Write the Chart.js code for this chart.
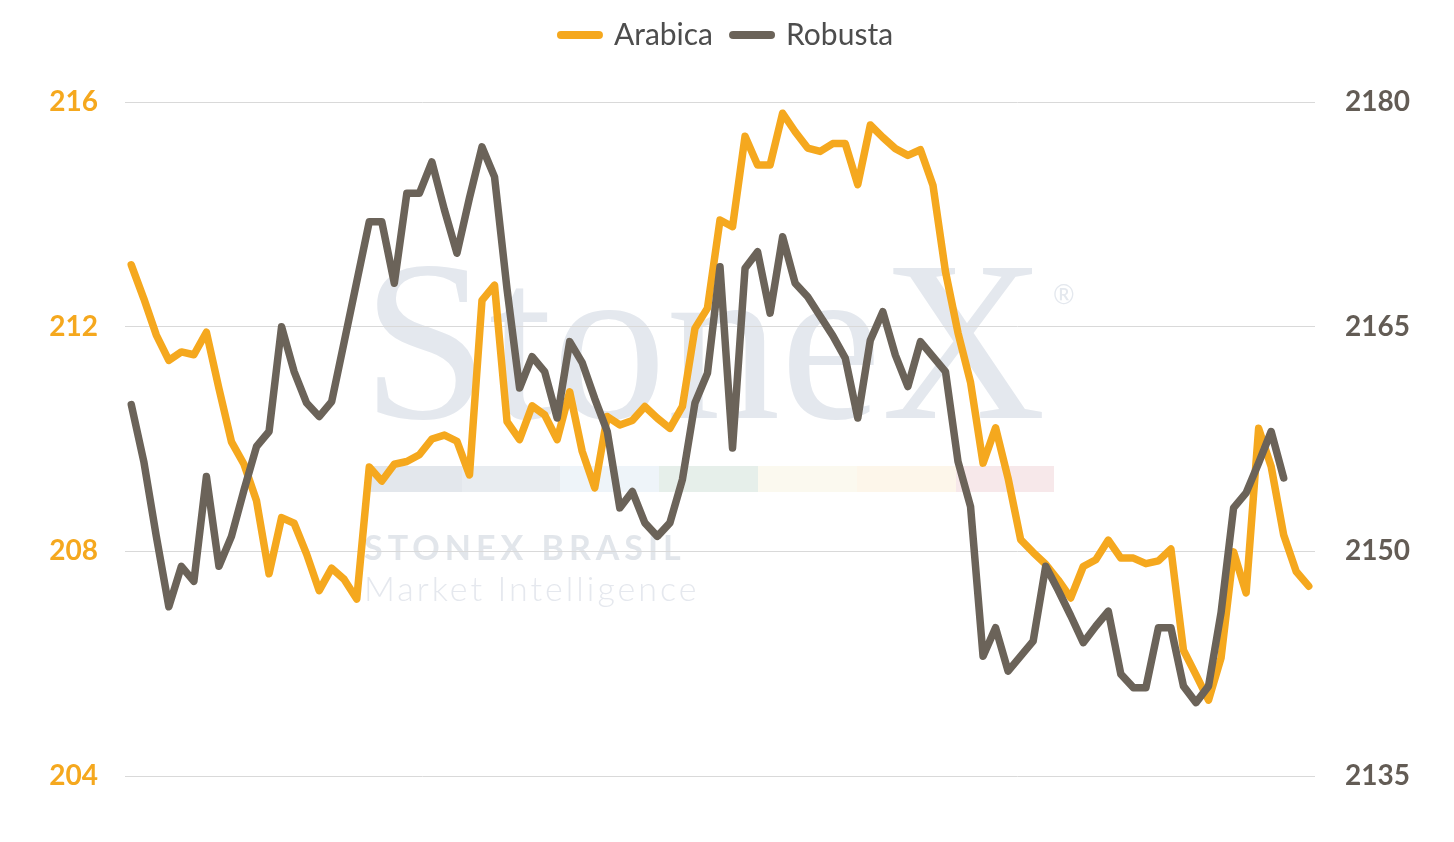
<!DOCTYPE html>
<html>
<head>
<meta charset="utf-8">
<script src="https://cdn.jsdelivr.net/npm/chart.js@4"></script>
<style>
  html, body { margin: 0; padding: 0; background: #ffffff; }
  #wrap { width: 1454px; height: 842px; }
</style>
</head>
<body>
<div id="wrap"><canvas id="c" width="1454" height="842"></canvas></div>
<script>
const categories = ["1","2","3","4","5","6","7","8","9","10","11","12","13","14","15","16","17","18","19","20",
  "21","22","23","24","25","26","27","28","29","30","31","32","33","34","35","36","37","38","39","40",
  "41","42","43","44","45","46","47","48","49","50","51","52","53","54","55","56","57","58","59","60",
  "61","62","63","64","65","66","67","68","69","70","71","72","73","74","75","76","77","78","79","80",
  "81","82","83","84","85","86","87","88","89","90","91","92","93","94","95"];

const arabica = [213.10, 212.50, 211.85, 211.40, 211.55, 211.50, 211.90, 210.90, 209.95, 209.55,
  208.90, 207.60, 208.60, 208.50, 207.95, 207.30, 207.70, 207.50, 207.15, 209.50,
  209.25, 209.55, 209.60, 209.72, 210.00, 210.07, 209.96, 209.36, 212.47, 212.74,
  210.31, 209.99, 210.59, 210.43, 209.99, 210.84, 209.78, 209.13, 210.40, 210.25,
  210.33, 210.58, 210.37, 210.19, 210.58, 211.97, 212.33, 213.90, 213.78, 215.39,
  214.88, 214.88, 215.80, 215.47, 215.18, 215.12, 215.26, 215.26, 214.53, 215.59,
  215.37, 215.17, 215.05, 215.15, 214.52, 212.98, 211.89, 211.01, 209.57, 210.20,
  209.30, 208.21, 207.98, 207.77, 207.49, 207.17, 207.73, 207.85, 208.20, 207.88,
  207.88, 207.78, 207.83, 208.04, 206.24, 205.80, 205.35, 206.10, 207.99, 207.26,
  210.19, 209.51, 208.29, 207.64, 207.38];

const robusta = [2159.8, 2156.0, 2151.0, 2146.3, 2149.0, 2148.0, 2155.0, 2149.0, 2151.0, 2154.1,
  2157.0, 2158.0, 2165.0, 2162.0, 2159.9, 2159.0, 2160.0, 2164.0, 2168.0, 2172.0,
  2172.0, 2167.9, 2173.9, 2173.9, 2176.0, 2172.8, 2169.9, 2173.6, 2177.0, 2175.0,
  2167.5, 2160.9, 2163.0, 2162.0, 2158.9, 2164.0, 2162.6, 2160.2, 2158.0, 2152.9,
  2154.0, 2151.9, 2151.0, 2151.9, 2154.8, 2159.9, 2161.9, 2169.0, 2156.9, 2168.9,
  2170.0, 2165.9, 2171.0, 2167.9, 2167.0, 2165.7, 2164.4, 2162.9, 2158.9, 2164.1,
  2166.0, 2163.1, 2161.0, 2164.0, 2163.0, 2162.0, 2156.0, 2153.0, 2143.0, 2144.9,
  2142.0, 2143.0, 2144.0, 2149.0, 2147.4, 2145.7, 2143.9, 2145.0, 2146.0, 2141.8,
  2140.9, 2140.9, 2144.9, 2144.9, 2141.0, 2139.9, 2141.0, 2145.9, 2152.9, 2153.9,
  2155.9, 2158.0, 2154.9];

const leftTicks = { min: 204, max: 216, step: 4 };
const rightTicks = { min: 2135, max: 2180, step: 15 };

const ORANGE = '#F5A81E';
const GREY = '#6B6359';

const watermark = {
  id: 'watermark',
  afterInit(chart) {
    const lg = chart.legend;
    if (lg) {
      const f = lg.fit;
      lg.fit = function () { f.call(this); this.height = 102; };
    }
  },
  beforeDraw(chart) {
    const ctx = chart.ctx;
    ctx.save();
    const starts = [368, 462, 560, 659, 758, 857, 956];
    const ends = [462, 560, 659, 758, 857, 956, 1054];
    const cols = ['#e3e7ec', '#e8ecf0', '#eef4f9', '#e6efea', '#fbf9ef', '#fdf6ea', '#f7e8ea'];
    starts.forEach((s, i) => {
      ctx.fillStyle = cols[i];
      ctx.fillRect(s, 466, ends[i] - s, 26);
    });
    ctx.fillStyle = '#e4e8ee';
    ctx.textBaseline = 'alphabetic';
    ctx.textAlign = 'left';
    ctx.font = '228px "Liberation Serif", "DejaVu Serif", serif';
    ctx.fillText('StoneX', 362, 418);
    ctx.font = '26px "Lato", sans-serif';
    ctx.fillText('®', 1053, 304);
    ctx.fillStyle = '#e2e6eb';
    ctx.font = 'bold 34px "Lato", sans-serif';
    ctx.letterSpacing = '5px';
    ctx.fillText('STONEX BRASIL', 364, 560);
    ctx.fillStyle = '#e5e8ee';
    ctx.font = '300 34px "Lato", sans-serif';
    ctx.letterSpacing = '3px';
    ctx.fillText('Market Intelligence', 364, 601);
    ctx.restore();
  }
};

new Chart(document.getElementById('c'), {
  type: 'line',
  data: {
    labels: categories,
    datasets: [
      {
        label: 'Arabica',
        data: arabica,
        yAxisID: 'y',
        borderColor: ORANGE,
        backgroundColor: ORANGE,
        borderWidth: 7.5,
        pointRadius: 0,
        pointHoverRadius: 0,
        tension: 0,
        borderCapStyle: 'round',
        borderJoinStyle: 'round',
        fill: false,
        order: 1
      },
      {
        label: 'Robusta',
        data: robusta,
        yAxisID: 'y1',
        borderColor: GREY,
        backgroundColor: GREY,
        borderWidth: 7.5,
        pointRadius: 0,
        pointHoverRadius: 0,
        tension: 0,
        borderCapStyle: 'round',
        borderJoinStyle: 'round',
        fill: false,
        order: 0
      }
    ]
  },
  options: {
    responsive: false,
    animation: false,
    devicePixelRatio: 1,
    layout: { padding: { top: 0, bottom: 66, left: 0, right: 0 } },
    plugins: {
      tooltip: { enabled: false },
      legend: {
        display: true,
        position: 'top',
        labels: {
          usePointStyle: true,
          pointStyle: 'line',
          pointStyleWidth: 38,
          padding: 20,
          color: '#4d4d4d',
          font: { family: 'Lato', size: 30 },
          sort: (a, b) => a.datasetIndex - b.datasetIndex,
          generateLabels: (chart) => {
            const items = Chart.defaults.plugins.legend.labels.generateLabels(chart);
            items.forEach(it => { it.lineCap = 'round'; it.lineWidth = 8; });
            return items;
          }
        }
      }
    },
    scales: {
      x: {
        type: 'category',
        display: false,
        offset: true,
        grid: { display: false }
      },
      y: {
        position: 'left',
        min: leftTicks.min,
        max: leftTicks.max,
        afterFit: (s) => { s.width = 125; },
        border: { display: false },
        grid: { color: '#d9d9d9', lineWidth: 1, drawTicks: false },
        ticks: {
          stepSize: leftTicks.step,
          padding: 27,
          color: ORANGE,
          font: { family: 'Lato', size: 28, weight: 'bold' },
          callback: (v) => String(v)
        }
      },
      y1: {
        position: 'right',
        min: rightTicks.min,
        max: rightTicks.max,
        afterFit: (s) => { s.width = 139; },
        border: { display: false },
        grid: { display: false, drawTicks: false },
        ticks: {
          stepSize: rightTicks.step,
          padding: 30,
          color: '#635C55',
          font: { family: 'Lato', size: 28, weight: 'bold' },
          callback: (v) => String(v)
        }
      }
    }
  },
  plugins: [watermark]
});
</script>
</body>
</html>
